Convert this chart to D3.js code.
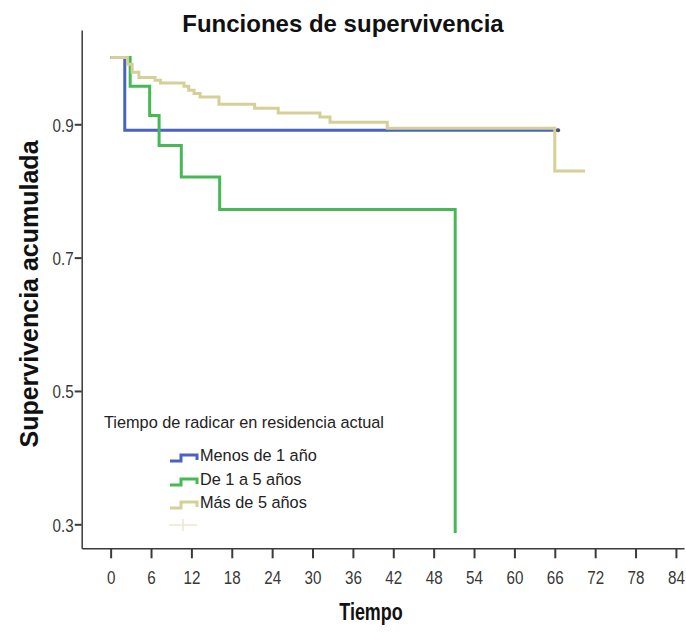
<!DOCTYPE html>
<html>
<head>
<meta charset="utf-8">
<script src="https://cdn.jsdelivr.net/npm/d3@7"></script>
<style>
  html, body { margin: 0; padding: 0; background: #fff; }
  svg { display: block; }
  text { font-family: "Liberation Sans", Arial, sans-serif; }
</style>
</head>
<body>
<svg id="chart" width="686" height="634"></svg>
<script>
// ---- data ----
const xTicks = [0, 6, 12, 18, 24, 30, 36, 42, 48, 54, 60, 66, 72, 78, 84];
const yTicks = [0.3, 0.5, 0.7, 0.9];

const groupNames = ["Menos de 1 año", "De 1 a 5 años", "Más de 5 años"];
const groupColors = ["#4a62c0", "#46b955", "#d6cf97"];

const menosTimes = [0, 2.1, 66.5];
const menosSurv  = [1.0, 0.891, 0.891];

const deTimes = [0, 2.9, 5.8, 7.2, 10.5, 16.2, 51.2];
const deSurv  = [1.0, 0.957, 0.913, 0.868, 0.821, 0.772, 0.287];

const masTimes = [0, 2.5, 3.2, 4.2, 6.6, 7.4, 10.9, 11.6, 12.4, 13.3, 16.1, 21.4, 24.9, 31.1, 32.6, 41.1, 66.0, 70.5];
const masSurv  = [1.0, 0.990, 0.978, 0.970, 0.966, 0.962, 0.957, 0.951, 0.946, 0.941, 0.930, 0.924, 0.917, 0.911, 0.903, 0.894, 0.830, 0.830];

const censorMenos = [66.5];

// ---- drawing ----
const svg = d3.select("#chart");
const x = d3.scaleLinear().domain([-4.3, 85.2]).range([81.7, 684]);
const y = d3.scaleLinear().domain([0.264, 1.0414]).range([548.3, 30]);

const axisColor = "#3a3a3a";

// axes
const gx = svg.append("g").attr("transform", `translate(0,${y(0.264)})`)
  .call(d3.axisBottom(x).tickValues(xTicks).tickSize(10).tickSizeOuter(0));
const gy = svg.append("g").attr("transform", `translate(${x(-4.3)},0)`)
  .call(d3.axisLeft(y).tickValues(yTicks).tickSize(7).tickSizeOuter(0).tickFormat(d3.format(".1f")));

[gx, gy].forEach(g => {
  g.select(".domain").attr("stroke", axisColor).attr("stroke-width", 1.5);
  g.selectAll(".tick line").attr("stroke", axisColor).attr("stroke-width", 2);
  g.selectAll(".tick text").attr("fill", "#383838").attr("font-size", 19)
    .attr("font-family", "'Liberation Sans', Arial, sans-serif");
});
// condensed look of the tick labels
gx.selectAll(".tick text").attr("x", null).attr("dy", null).attr("y", 0)
  .attr("transform", "translate(0,36) scale(0.8,1)");
gy.selectAll(".tick text").attr("x", null).attr("dy", null)
  .attr("transform", "translate(-8,7) scale(0.8,1)");

// survival curves
const line = d3.line().x(d => x(d[0])).y(d => y(d[1])).curve(d3.curveStepAfter);
const series = [
  [menosTimes, menosSurv],
  [deTimes, deSurv],
  [masTimes, masSurv]
];
series.forEach((s, i) => {
  const pts = s[0].map((t, j) => [t, s[1][j]]);
  svg.append("path").datum(pts).attr("d", line)
    .attr("fill", "none").attr("stroke", groupColors[i]).attr("stroke-width", 3)
    .attr("stroke-linejoin", "miter");
});

// censor mark on blue
censorMenos.forEach(t => {
  svg.append("circle").attr("cx", x(t)).attr("cy", y(0.891)).attr("r", 2)
    .attr("fill", "#4a4f6a");
});

// title
svg.append("text").attr("x", 343).attr("y", 32).attr("text-anchor", "middle")
  .attr("font-size", 24).attr("font-weight", "bold").attr("fill", "#111")
  .text("Funciones de supervivencia");

// axis titles
svg.append("text").attr("transform", "translate(38,294) rotate(-90)")
  .attr("text-anchor", "middle").attr("font-size", 25).attr("font-weight", "bold").attr("fill", "#111")
  .text("Supervivencia acumulada");
svg.append("text").attr("transform", "translate(371,620) scale(0.78,1)").attr("text-anchor", "middle")
  .attr("font-size", 23).attr("font-weight", "bold").attr("fill", "#111")
  .text("Tiempo");

// legend
svg.append("text").attr("x", 104).attr("y", 428).attr("font-size", 16.3).attr("fill", "#222")
  .text("Tiempo de radicar en residencia actual");
const legY = [455, 479, 502];
groupNames.forEach((n, i) => {
  const ly = legY[i];
  svg.append("path").attr("d", `M170,${ly + 6} H181 V${ly} H197 V${ly + 5}`)
    .attr("fill", "none").attr("stroke", groupColors[i]).attr("stroke-width", 3);
  svg.append("text").attr("x", 200).attr("y", ly + 6).attr("font-size", 16.3).attr("fill", "#222").text(n);
});
// censored symbol row
svg.append("path").attr("d", "M169,525 H197 M183,519 V531")
  .attr("stroke", "#ebe8cf").attr("stroke-width", 1.5).attr("fill", "none");
</script>
</body>
</html>
